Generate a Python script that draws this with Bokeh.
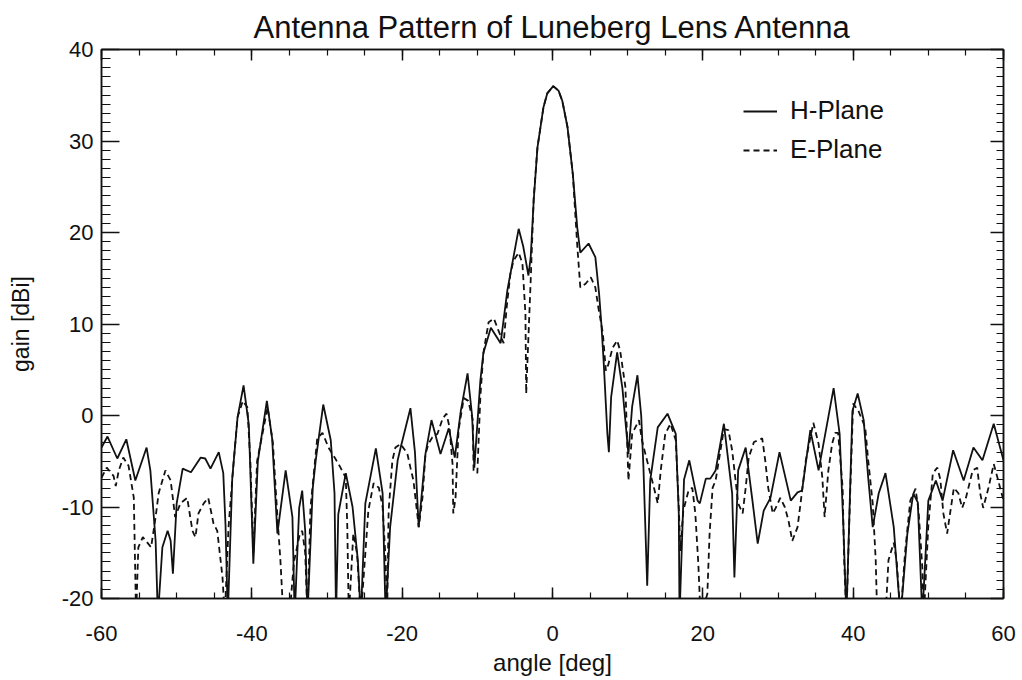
from bokeh.plotting import figure
from bokeh.models import (LinearAxis, SingleIntervalTicker, Legend, LegendItem,
                          ColumnDataSource, Range1d, PrintfTickFormatter,
                          CustomLabelingPolicy)
from bokeh.embed import file_html
from bokeh.resources import INLINE

# ---------------- data ----------------
h_angle = [-60.0, -59.2, -57.9, -56.7, -55.5, -54.0, -53.5, -52.8, -52.5, -51.9,
           -51.2, -50.8, -50.5, -50.0, -49.2, -48.1, -46.8, -46.2, -45.5, -44.4,
           -43.8, -43.5, -43.2, -42.6, -41.9, -41.1, -40.4, -39.8, -39.2, -38.0,
           -37.3, -36.6, -35.5, -34.6, -34.3, -33.7, -33.3, -32.9, -32.6, -31.9,
           -31.5, -30.5, -29.5, -29.0, -28.8, -28.5, -27.5, -26.6, -25.9, -25.5,
           -24.9, -23.5, -22.6, -22.2, -21.6, -20.6, -20.2, -18.9, -18.3, -17.8,
           -16.9, -16.1, -14.9, -13.8, -13.0, -12.2, -11.3, -10.7, -10.4, -9.6,
           -9.2, -8.2, -6.9, -6.0, -4.5, -3.9, -3.2, -2.9, -2.5, -2.0,
           -1.2, -0.7, 0.1, 0.8, 1.3, 2.0, 2.7, 3.3, 3.7, 4.8, 5.7, 6.2,
           6.5, 6.8, 7.3, 7.5, 7.8, 8.6, 9.3, 10.1, 10.6, 11.3,
           11.8, 12.1, 12.6, 13.0, 14.0, 15.3, 16.4, 16.8, 16.9, 17.5,
           18.2, 19.3, 19.6, 20.4, 21.0, 21.7, 22.8, 23.9, 24.2, 24.7,
           25.7, 26.6, 27.3, 28.1, 29.0, 30.2, 31.7, 32.6, 33.2, 34.3,
           35.4, 37.4, 38.2, 38.7, 39.1, 39.9, 40.6, 41.4, 42.0, 42.6,
           43.4, 44.3, 45.4, 46.3, 47.2, 48.0, 48.6, 49.2, 50.0, 51.0,
           51.9, 53.3, 54.7, 56.0, 57.2, 58.7, 60.0]
h_gain = [-3.5, -2.3, -4.7, -2.6, -7.1, -3.5, -6.0, -13.7, -22.0, -14.4,
          -12.6, -13.7, -17.3, -9.6, -5.8, -6.2, -4.6, -4.7, -5.8, -4.0,
          -6.3, -12.0, -22.0, -6.8, -0.2, 3.3, -1.0, -16.2, -5.0, 1.6,
          -2.5, -12.9, -6.0, -11.1, -22.0, -10.1, -8.2, -12.6, -22.0, -8.0,
          -4.9, 1.2, -2.7, -8.5, -22.0, -10.8, -6.3, -10.0, -15.8, -22.0,
          -9.6, -3.6, -8.5, -22.0, -12.2, -4.9, -3.5, 0.8, -4.0, -12.2,
          -4.2, -0.5, -4.2, -1.4, -4.6, 0.5, 4.6, 0.0, -5.7, 3.8,
          6.8, 9.6, 7.9, 13.7, 20.4, 18.5, 15.3, 17.3, 23.5, 29.3,
          33.7, 35.2, 36.0, 35.5, 34.4, 31.5, 26.4, 20.5, 17.8, 18.8, 17.3, 13.3,
          10.0, 6.0, -2.0, -4.0, 2.0, 6.9, 3.0, -4.2, 1.0, 4.4,
          0.0, -5.7, -18.6, -7.1, -1.3, 0.2, -2.0, -10.7, -22.0, -7.0,
          -4.9, -9.3, -9.6, -6.9, -6.9, -6.0, -0.9, -8.5, -17.7, -6.0,
          -3.5, -9.3, -14.0, -10.4, -9.0, -4.0, -9.3, -8.4, -8.2, -1.6,
          -6.0, 3.0, -2.0, -12.2, -22.0, 0.5, 2.4, -0.5, -6.8, -12.2,
          -8.5, -6.3, -12.2, -22.0, -13.0, -8.5, -9.5, -22.0, -9.3, -7.1,
          -9.3, -3.8, -7.1, -3.5, -4.9, -0.9, -4.9]

e_angle = [-60.0, -59.3, -58.4, -58.1, -57.7, -57.1, -56.4, -55.7, -55.4, -55.1,
           -54.5, -53.9, -53.4, -52.8, -52.4, -51.5, -50.8, -50.2, -49.5, -48.6,
           -47.9, -47.5, -47.1, -46.4, -45.8, -45.1, -44.6, -43.9, -43.6, -43.1,
           -42.4, -41.9, -41.2, -40.6, -40.2, -39.8, -39.3, -37.9, -37.2, -36.6,
           -36.2, -35.8, -35.0, -34.4, -33.6, -33.3, -32.9, -32.6, -32.2, -31.3,
           -30.6, -29.8, -28.9, -28.2, -27.5, -27.3, -27.1, -26.5, -26.0, -25.5,
           -24.5, -23.8, -23.1, -22.6, -22.2, -22.0, -21.8, -21.3, -20.9, -20.2,
           -19.3, -18.9, -18.5, -18.0, -17.8, -17.3, -16.9, -16.5, -16.0, -15.3,
           -14.6, -14.1, -13.7, -13.3, -13.2, -12.9, -12.5, -11.8, -11.2, -10.6,
           -10.5, -10.0, -9.6, -9.2, -8.5, -7.8, -7.2, -6.5, -6.1, -5.6,
           -5.2, -4.5, -4.0, -3.6, -3.5, -2.9, -2.5, -2.0, -1.2, -0.7, 0.1,
           0.8, 1.3, 2.0, 2.7, 3.3, 3.7, 4.4, 5.1, 5.7, 6.1, 6.7,
           7.1, 7.4, 8.0, 8.6, 9.0, 9.7, 10.1, 10.6, 11.5, 11.9,
           13.0, 13.5, 14.0, 14.4, 15.0, 15.7, 16.4, 16.8, 17.0, 17.4,
           18.1, 18.6, 19.0, 19.4, 19.7, 20.6, 20.9, 21.3, 21.7, 22.8,
           23.4, 23.9, 24.7, 25.3, 25.7, 26.1, 26.8, 27.9, 28.3, 28.7,
           29.3, 29.7, 30.3, 30.9, 31.4, 31.9, 32.6, 33.0, 33.7, 34.7,
           35.4, 35.9, 36.2, 36.7, 37.2, 37.6, 38.0, 38.6, 38.8, 39.1,
           39.6, 40.0, 40.7, 41.6, 42.0, 42.6, 43.0, 43.2, 44.3, 44.7,
           45.4, 45.8, 46.3, 46.9, 47.6, 48.3, 48.7, 49.2, 49.4, 50.0,
           50.6, 51.2, 51.6, 52.0, 52.5, 53.0, 53.4, 54.0, 54.5, 55.0,
           55.9, 56.5, 56.9, 57.3, 58.0, 58.7, 59.2, 60.0]
e_gain = [-6.8, -5.7, -6.6, -7.7, -6.0, -4.6, -5.5, -9.0, -22.0, -14.4,
          -13.3, -13.9, -14.4, -11.1, -8.5, -6.0, -7.1, -11.1, -9.6, -9.0,
          -12.6, -13.3, -10.7, -9.6, -9.0, -11.8, -12.6, -17.7, -22.0, -12.2,
          -4.9, -0.2, 1.6, 0.9, -4.9, -15.0, -5.0, 0.9, -3.0, -11.0,
          -15.8, -22.0, -22.0, -16.0, -12.9, -12.6, -15.0, -22.0, -10.1, -2.5,
          -1.9, -3.5, -4.7, -5.7, -6.8, -12.2, -22.0, -12.9, -15.1, -22.0,
          -10.4, -7.4, -7.9, -10.0, -15.8, -22.0, -10.4, -4.9, -3.5, -3.1,
          -4.2, -5.7, -7.1, -10.7, -12.2, -9.0, -4.2, -3.1, -2.4, -2.0,
          -0.3, 0.2, -1.3, -5.3, -10.7, -9.0, -1.6, 1.9, 1.6, -0.5,
          -6.0, -6.3, 2.0, 6.8, 10.2, 10.6, 9.3, 7.9, 11.8, 15.5,
          16.9, 17.8, 16.6, 11.1, 2.4, 14.8, 23.8, 29.3, 33.7, 35.2, 36.0,
          35.5, 34.4, 31.5, 26.4, 18.5, 14.0, 14.4, 15.1, 14.0, 11.8, 9.0,
          4.9, 5.5, 7.4, 8.2, 7.1, 3.1, -7.1, -2.0, -0.5, -2.7,
          -6.3, -7.9, -9.6, -6.0, -2.0, -0.9, -2.7, -10.0, -14.8, -10.4,
          -8.2, -7.9, -10.7, -16.2, -22.0, -19.5, -12.9, -7.9, -7.1, -1.5,
          -1.6, -3.8, -9.6, -10.7, -7.9, -4.6, -2.9, -2.5, -4.9, -7.9,
          -10.7, -10.1, -9.0, -10.0, -11.5, -13.7, -12.2, -9.6, -4.9, -0.8,
          -3.1, -6.8, -11.1, -6.0, -3.1, -1.9, -1.9, -7.9, -15.8, -22.0,
          -8.5, 1.3, 0.5, -1.3, -4.9, -9.6, -15.8, -22.0, -22.0, -15.8,
          -13.9, -16.0, -22.0, -15.0, -9.3, -8.0, -10.4, -16.6, -22.0, -12.0,
          -6.3, -5.7, -7.0, -10.7, -12.9, -10.1, -7.9, -8.5, -10.1, -9.0,
          -6.0, -5.7, -8.5, -10.1, -7.9, -5.3, -6.8, -9.3]

series_names = ["H-Plane", "E-Plane"]
title_text = "Antenna Pattern of Luneberg Lens Antenna"
x_label = "angle [deg]"
y_label = "gain [dBi]"

FONT = "Liberation Sans"
INK = "#111111"

p = figure(width=1022, height=680, output_backend="svg", toolbar_location=None,
           x_range=Range1d(-60, 60), y_range=Range1d(-20, 40),
           min_border_left=101, min_border_right=19, min_border_top=49,
           min_border_bottom=82, title=title_text, background_fill_color="white",
           border_fill_color="white")

p.title.align = "center"
p.title.text_font = FONT
p.title.text_font_size = "31px"
p.title.text_font_style = "normal"
p.title.text_color = INK
p.title.standoff = 2

p.xgrid.visible = False
p.ygrid.visible = False
p.outline_line_color = INK
p.outline_line_width = 1.5

xt = SingleIntervalTicker(interval=20, num_minor_ticks=4)
yt = SingleIntervalTicker(interval=10, num_minor_ticks=10)

def style_axis(ax, major_in, minor_in, labels=True):
    ax.major_tick_in = major_in
    ax.major_tick_out = 0
    ax.minor_tick_in = minor_in
    ax.minor_tick_out = 0
    ax.axis_line_color = INK
    ax.axis_line_width = 1.5
    ax.major_tick_line_color = INK
    ax.minor_tick_line_color = INK
    ax.major_tick_line_width = 1.5
    ax.minor_tick_line_width = 1.2
    ax.major_label_text_font = FONT
    ax.major_label_text_color = INK
    ax.axis_label_text_font = FONT
    ax.axis_label_text_color = INK
    ax.axis_label_text_font_style = "normal"
    ax.formatter = PrintfTickFormatter(format="%d")
    if not labels:
        ax.major_label_policy = CustomLabelingPolicy(
            code="for (const i of indices) indices.unset(i)")
        ax.major_label_text_font_size = "1px"
        ax.major_label_standoff = 0

p.xaxis.ticker = xt
p.yaxis.ticker = yt
style_axis(p.xaxis[0], 11, 6)
style_axis(p.yaxis[0], 18, 9)
p.xaxis.major_label_text_font_size = "22px"
p.yaxis.major_label_text_font_size = "22px"
p.xaxis.major_label_standoff = 27
p.yaxis.major_label_standoff = 8
p.xaxis.axis_label = x_label
p.yaxis.axis_label = y_label
p.xaxis.axis_label_text_font_size = "24px"
p.yaxis.axis_label_text_font_size = "23px"
p.xaxis.axis_label_standoff = 5
p.yaxis.axis_label_standoff = 25

top = LinearAxis(ticker=SingleIntervalTicker(interval=20, num_minor_ticks=4))
right = LinearAxis(ticker=SingleIntervalTicker(interval=10, num_minor_ticks=10))
style_axis(top, 11, 6, labels=False)
style_axis(right, 13, 7, labels=False)
p.add_layout(top, "above")
p.add_layout(right, "right")

src_h = ColumnDataSource(dict(x=h_angle, y=h_gain))
src_e = ColumnDataSource(dict(x=e_angle, y=e_gain))
r_h = p.line("x", "y", source=src_h, line_color=INK, line_width=1.8)
r_e = p.line("x", "y", source=src_e, line_color=INK, line_width=1.8,
             line_dash="6 4")

legend = Legend(items=[LegendItem(label=series_names[0], renderers=[r_h]),
                       LegendItem(label=series_names[1], renderers=[r_e])],
                location=(642, 433), orientation="vertical",
                background_fill_alpha=0, border_line_alpha=0,
                padding=0, margin=0, spacing=8, glyph_width=34,
                glyph_height=20, label_height=20, label_standoff=13,
                label_text_font=FONT, label_text_font_size="26px",
                label_text_color=INK)
p.add_layout(legend, "center")

open("out.html", "w").write(file_html(p, INLINE))
